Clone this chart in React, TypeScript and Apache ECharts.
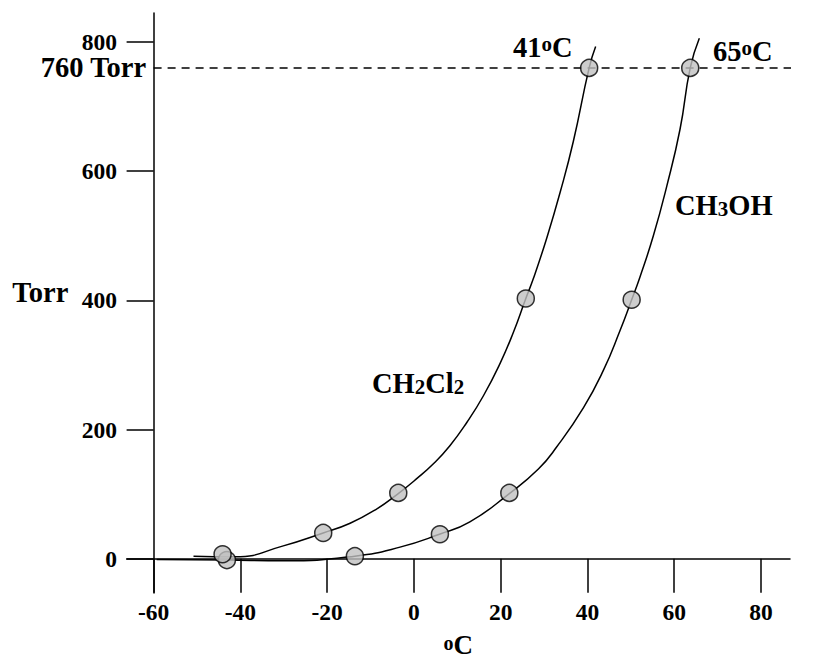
import React, { useEffect, useRef } from "react";
import * as echarts from "echarts";

// Tick values
const xTicks = [-60, -40, -20, 0, 20, 40, 60, 80];
const yTicks = [0, 200, 400, 600, 800];

// Measured points (°C, Torr)
const ch2cl2Points = [[-44.1, 7], [-20.9, 40], [-3.6, 102], [25.8, 403], [40.4, 760]];
const ch3ohPoints = [[-43.1, -2], [-13.6, 4], [6.0, 38], [22.0, 102], [50.2, 401], [63.7, 760]];

// Fitted curve traces (°C, Torr)
const ch2cl2Curve = [
  [-50.8, 4], [-41.2, 3], [-30.1, 20], [-20.9, 40], [-14.7, 55], [-8.6, 77], [-3.6, 101],
  [0.65, 124], [4.5, 147], [8.3, 175], [12.2, 211], [16.0, 252], [19.9, 303], [22.9, 350],
  [25.8, 403], [27.5, 433], [30.6, 496], [33.7, 567], [36.75, 646], [40.4, 760], [41.9, 793],
];
const ch3ohCurve = [
  [-59.3, -1], [-43.1, -2], [-30.1, -3], [-13.6, 4], [-3.2, 18], [5.9, 38], [12.9, 57],
  [22.0, 101], [28.7, 139], [32.9, 173], [39.1, 234], [43.7, 292], [47.5, 353], [50.2, 401],
  [52.1, 436], [55.2, 500], [58.3, 577], [61.35, 665], [63.7, 760], [65.8, 806],
];

// 760 Torr reference line
const atmLine = [[-60, 760], [95.5, 760]];

const FONT = "'Liberation Serif', 'Times New Roman', serif";

export default function App() {
  const ref = useRef<HTMLDivElement>(null);
  useEffect(() => {
    const chart = echarts.init(ref.current!, null, { renderer: "svg" });
    const BIG = 28.5;
    const mainG = { fontSize: BIG, fontWeight: "bold", fontFamily: FONT, fill: "#000", lineHeight: 28 };
    const subG = { fontSize: 21, fontWeight: "bold", fontFamily: FONT, fill: "#000", lineHeight: 11, verticalAlign: "bottom" };
    const supG = { fontSize: 21, fontWeight: "bold", fontFamily: FONT, fill: "#000", lineHeight: 20, verticalAlign: "top" };
    const txt = (x: number, y: number, text: string, align = "left") => ({
      type: "text",
      x,
      y,
      style: { text, align, verticalAlign: "middle", rich: { m: mainG, s: subG, p: supG }, fontSize: BIG, fontWeight: "bold", fontFamily: FONT, fill: "#000" },
    });
    const tickLabel = { fontSize: 23.5, fontWeight: "bold", fontFamily: FONT, color: "#000" };
    const axisLine = { lineStyle: { color: "#000", width: 1.5 } };
    const markerStyle = { color: "#c0c0c0", borderColor: "#000", borderWidth: 1.5 };

    const option: any = {
      animation: false,
      backgroundColor: "#fff",
      grid: { left: 126.7, right: 38, top: 13, bottom: 67, outerBoundsMode: "none", containLabel: false },
      xAxis: {
        type: "value",
        min: -66.2,
        max: 86.7,
        axisLine: { onZero: true, ...axisLine },
        axisTick: { customValues: xTicks, length: 34, lineStyle: { color: "#000", width: 1.5 } },
        axisLabel: { customValues: xTicks, margin: 6.5, ...tickLabel },
        splitLine: { show: false },
        name: "{p|o}{c|C}",
        nameLocation: "middle",
        nameGap: 40,
        nameTextStyle: {
          fontSize: 27,
          fontWeight: "bold",
          fontFamily: FONT,
          color: "#000",
          lineHeight: 24,
          rich: {
            c: { fontSize: 27, fontWeight: "bold", fontFamily: FONT, color: "#000", lineHeight: 24 },
            p: { fontSize: 20, fontWeight: "bold", fontFamily: FONT, color: "#000", lineHeight: 12, verticalAlign: "top" },
          },
        },
      },
      yAxis: {
        type: "value",
        min: -53,
        max: 845,
        offset: -26.9,
        axisLine: { onZero: false, ...axisLine },
        axisTick: { customValues: yTicks, length: 27, lineStyle: { color: "#000", width: 1.5 } },
        axisLabel: { customValues: yTicks, margin: 36.6, ...tickLabel },
        splitLine: { show: false },
      },
      graphic: [
        txt(513, 47, "{m|41}{p|o}{m|C}"),
        txt(713, 51, "{m|65}{p|o}{m|C}"),
        txt(675, 205, "{m|CH}{s|3}{m|OH}"),
        txt(372, 383, "{m|CH}{s|2}{m|Cl}{s|2}"),
        txt(68.3, 292, "{m|Torr}", "right"),
      ],
      series: [
        {
          type: "line",
          data: atmLine.map((v, i) =>
            i === 0
              ? {
                  value: v,
                  label: {
                    show: true,
                    position: "left",
                    distance: 7,
                    formatter: "760 Torr",
                    fontSize: BIG,
                    fontWeight: "bold",
                    fontFamily: FONT,
                    color: "#000",
                    lineHeight: 22,
                  },
                }
              : v
          ),
          symbol: "circle",
          symbolSize: 1,
          showSymbol: true,
          itemStyle: { color: "rgba(0,0,0,0)", borderWidth: 0 },
          label: { show: false },
          lineStyle: { color: "#000", width: 1.5, type: [8, 6] },
          clip: false,
          silent: true,
          z: 1,
        },
        {
          type: "line",
          data: ch3ohCurve,
          smooth: 0.5,
          symbol: "none",
          lineStyle: { color: "#000", width: 1.5 },
          clip: false,
          z: 2,
        },
        {
          type: "line",
          data: ch2cl2Curve,
          smooth: 0.5,
          symbol: "none",
          lineStyle: { color: "#000", width: 1.5 },
          clip: false,
          z: 2,
        },
        {
          type: "scatter",
          data: ch3ohPoints,
          symbol: "circle",
          symbolSize: 17,
          itemStyle: markerStyle,
          z: 3,
        },
        {
          type: "scatter",
          data: ch2cl2Points,
          symbol: "circle",
          symbolSize: 17,
          itemStyle: markerStyle,
          z: 4,
        },
      ],
    };
    chart.setOption(option);
    return () => chart.dispose();
  }, []);
  return <div ref={ref} style={{ position: "fixed", left: 0, top: 0, width: 828, height: 660 }} />;
}
